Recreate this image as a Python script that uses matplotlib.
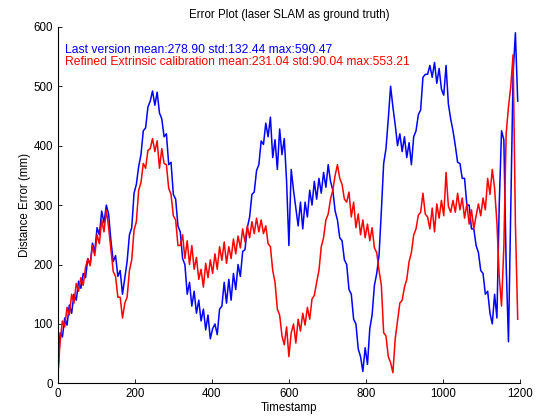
import numpy as np
import matplotlib
matplotlib.use('Agg')
import matplotlib.pyplot as plt

plt.rcParams['font.family'] = ['Liberation Sans', 'DejaVu Sans']

# sample step of the timestamps
step = 6

# distance error of the last version (blue), one value every 6 timestamps
last_version = [
    10, 85, 78, 110, 98, 132, 118, 150, 140, 172,
    160, 185, 178, 210, 200, 236, 222, 262, 250, 290,
    270, 300, 285, 240, 205, 215, 180, 190, 150, 178,
    205, 250, 262, 320, 335, 365, 385, 425, 430, 465,
    475, 492, 468, 490, 455, 445, 415, 420, 368, 372,
    318, 310, 265, 255, 210, 200, 150, 170, 130, 155,
    118, 140, 105, 125, 90, 115, 75, 92, 100, 82,
    125, 130, 170, 135, 175, 140, 185, 158, 200, 180,
    222, 225, 262, 280, 318, 322, 358, 368, 408, 402,
    438, 415, 448, 380, 410, 360, 428, 385, 412, 340,
    232, 360, 325, 295, 265, 305, 260, 305, 280, 325,
    300, 340, 310, 345, 320, 355, 330, 368, 340, 325,
    290, 275, 245, 240, 208, 200, 158, 150, 108, 100,
    58, 45, 20, 60, 32, 92, 115, 165, 185, 215,
    290, 370, 395, 445, 500, 465, 435, 400, 420, 390,
    415, 380, 405, 368, 415, 425, 452, 460, 515, 520,
    520, 535, 515, 540, 505, 530, 495, 485, 535, 470,
    445, 425, 400, 372, 370, 345, 345, 300, 300, 260,
    260, 232, 220, 190, 185, 150, 155, 118, 100, 150,
    110, 300, 425, 410, 200, 70, 300, 520, 590, 475,
]

# distance error after refined extrinsic calibration (red)
refined = [
    10, 70, 105, 95, 128, 115, 150, 135, 168, 155,
    178, 165, 195, 210, 198, 232, 215, 250, 235, 275,
    255, 292, 262, 225, 188, 180, 145, 145, 110, 135,
    145, 190, 208, 258, 272, 325, 338, 370, 362, 392,
    395, 412, 390, 408, 362, 395, 370, 368, 328, 318,
    282, 275, 232, 232, 250, 210, 240, 200, 232, 192,
    212, 175, 192, 162, 202, 178, 208, 185, 218, 192,
    230, 207, 238, 202, 230, 210, 243, 218, 248, 228,
    260, 238, 265, 245, 272, 252, 278, 255, 275, 252,
    265, 235, 230, 190, 170, 125, 115, 80, 65, 95,
    45, 85, 100, 68, 108, 88, 118, 98, 128, 108,
    142, 148, 170, 190, 230, 245, 275, 285, 310, 325,
    350, 368, 345, 335, 310, 305, 322, 280, 305, 262,
    285, 250, 275, 245, 268, 240, 262, 228, 220, 190,
    165, 85, 80, 45, 35, 18, 75, 105, 135, 140,
    162, 175, 205, 220, 250, 260, 283, 288, 320, 285,
    280, 260, 295, 255, 302, 278, 308, 282, 355, 298,
    288, 308, 288, 320, 292, 312, 278, 302, 268, 292,
    260, 282, 302, 282, 312, 292, 345, 318, 360, 328,
    270, 180, 130, 230, 420, 465, 500, 553, 270, 108,
]

label_last = 'Last version mean:278.90 std:132.44 max:590.47'
label_refined = 'Refined Extrinsic calibration mean:231.04 std:90.04 max:553.21'

t_last = np.arange(len(last_version)) * step
t_refined = np.arange(len(refined)) * step

fig = plt.figure(figsize=(5.4, 4.19), dpi=100)
ax = fig.add_axes([0.107, 0.085, 0.856, 0.851])

ax.plot(t_last, last_version, color='#0000ff', lw=1.1)
ax.plot(t_refined, refined, color='#ff0000', lw=1.1)

ax.text(18, 561, label_last, color='#0000ff', fontsize=8.7, va='center')
ax.text(18, 540, label_refined, color='#ff0000', fontsize=8.7, va='center')

ax.set_xlim(0, 1200)
ax.set_ylim(0, 600)
ax.set_xticks(range(0, 1201, 200))
ax.set_yticks(range(0, 601, 100))
ax.tick_params(direction='in', length=3, labelsize=8.3, width=0.6)
for side in ['top', 'right']:
    ax.spines[side].set_visible(False)
for side in ['left', 'bottom']:
    ax.spines[side].set_linewidth(0.8)

ax.set_title('Error Plot (laser SLAM as ground truth)', fontsize=8.3, pad=6)
ax.set_xlabel('Timestamp', fontsize=8.3, labelpad=1)
ax.set_ylabel('Distance Error (mm)', fontsize=8.3, labelpad=2)

fig.savefig('out.png', dpi=100)
